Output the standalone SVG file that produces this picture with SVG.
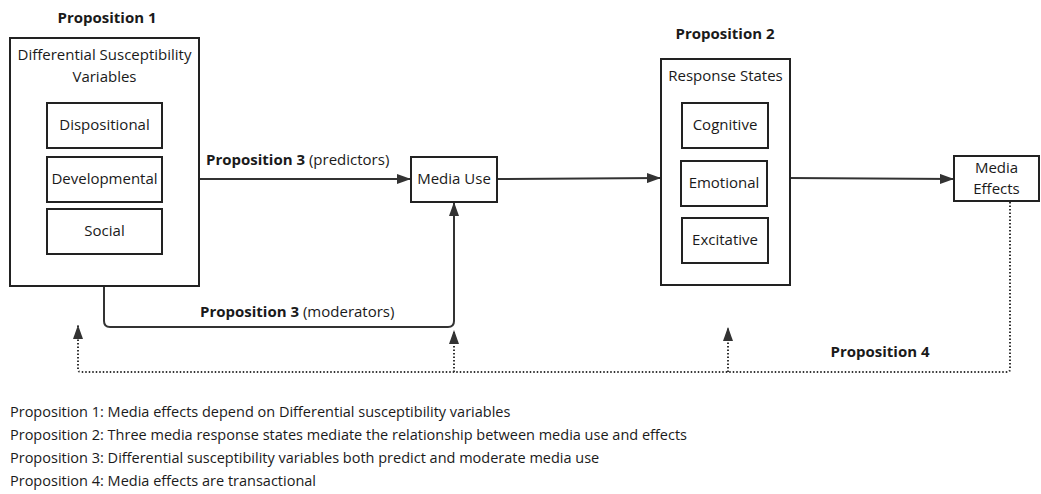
<svg xmlns="http://www.w3.org/2000/svg" width="1041" height="494" viewBox="0 0 1041 494">
<style>
text{font-family:"Open Sans","Noto Sans","Liberation Sans",sans-serif;fill:#1a1a1a;font-size:15px}
.b{font-weight:bold}
.box{fill:#fff;stroke:#222;stroke-width:2}
.ln{fill:none;stroke:#333;stroke-width:2}
.dot{fill:none;stroke:#333;stroke-width:2;stroke-dasharray:1.5 2}
.leg{font-size:14.5px}
.c{text-anchor:middle}
</style>
<defs>
<marker id="ah" viewBox="0 0 14 10" refX="14" refY="5" markerWidth="14" markerHeight="10" markerUnits="userSpaceOnUse" orient="auto">
<path d="M0,0 L14,5 L0,10 z" fill="#333"/>
</marker>
</defs>
<rect width="1041" height="494" fill="#fff"/>
<g id="connectors">
<line class="ln" x1="199" y1="179" x2="411" y2="179" marker-end="url(#ah)"/>
<line class="ln" x1="497" y1="179" x2="661" y2="178" marker-end="url(#ah)"/>
<line class="ln" x1="790" y1="178" x2="954" y2="179" marker-end="url(#ah)"/>
<path class="ln" d="M104,286 V321 Q104,327 110,327 H448 Q454,327 454,321 V202" marker-end="url(#ah)"/>
<path class="dot" d="M1010,202 V369 Q1010,372 1007,372 H81 Q78,372 78,369 V325" marker-end="url(#ah)"/>
<line class="dot" x1="454" y1="372" x2="454" y2="330" marker-end="url(#ah)"/>
<line class="dot" x1="728" y1="372" x2="728" y2="327" marker-end="url(#ah)"/>
<text x="206" y="165"><tspan class="b">Proposition 3</tspan> (predictors)</text>
<text x="200" y="317"><tspan class="b">Proposition 3</tspan> (moderators)</text>
<text class="b c" x="880" y="357">Proposition 4</text>
</g>
<g id="p1">
<text class="b c" x="107" y="23">Proposition 1</text>
<rect class="box" x="10" y="38" width="189" height="248"/>
<text class="c" x="104.5" y="60">Differential Susceptibility</text>
<text class="c" x="104.5" y="82">Variables</text>
</g>
<g id="dispositional"><rect class="box" x="47" y="103" width="115" height="45"/><text class="c" x="104.5" y="130">Dispositional</text></g>
<g id="developmental"><rect class="box" x="47" y="157" width="115" height="45"/><text class="c" x="104.5" y="184">Developmental</text></g>
<g id="social"><rect class="box" x="47" y="209" width="115" height="45"/><text class="c" x="104.5" y="236">Social</text></g>
<g id="media-use"><rect class="box" x="411" y="157" width="86" height="45"/><text class="c" x="454" y="184">Media Use</text></g>
<g id="p2">
<text class="b c" x="725" y="39">Proposition 2</text>
<rect class="box" x="661" y="59" width="129" height="226"/>
<text class="c" x="725.5" y="81">Response States</text>
</g>
<g id="cognitive"><rect class="box" x="682" y="103" width="86" height="45"/><text class="c" x="725" y="130">Cognitive</text></g>
<g id="emotional"><rect class="box" x="681" y="161" width="86" height="45"/><text class="c" x="724" y="188">Emotional</text></g>
<g id="excitative"><rect class="box" x="682" y="218" width="86" height="45"/><text class="c" x="725" y="245">Excitative</text></g>
<g id="media-effects"><rect class="box" x="954" y="156" width="85" height="45"/><text class="c" x="996.5" y="173">Media</text><text class="c" x="996.5" y="194">Effects</text></g>
<g id="legend">
<text class="leg" x="10" y="417">Proposition 1: Media effects depend on Differential susceptibility variables</text>
<text class="leg" x="10" y="440">Proposition 2: Three media response states mediate the relationship between media use and effects</text>
<text class="leg" x="10" y="463">Proposition 3: Differential susceptibility variables both predict and moderate media use</text>
<text class="leg" x="10" y="486">Proposition 4: Media effects are transactional</text>
</g>
</svg>
